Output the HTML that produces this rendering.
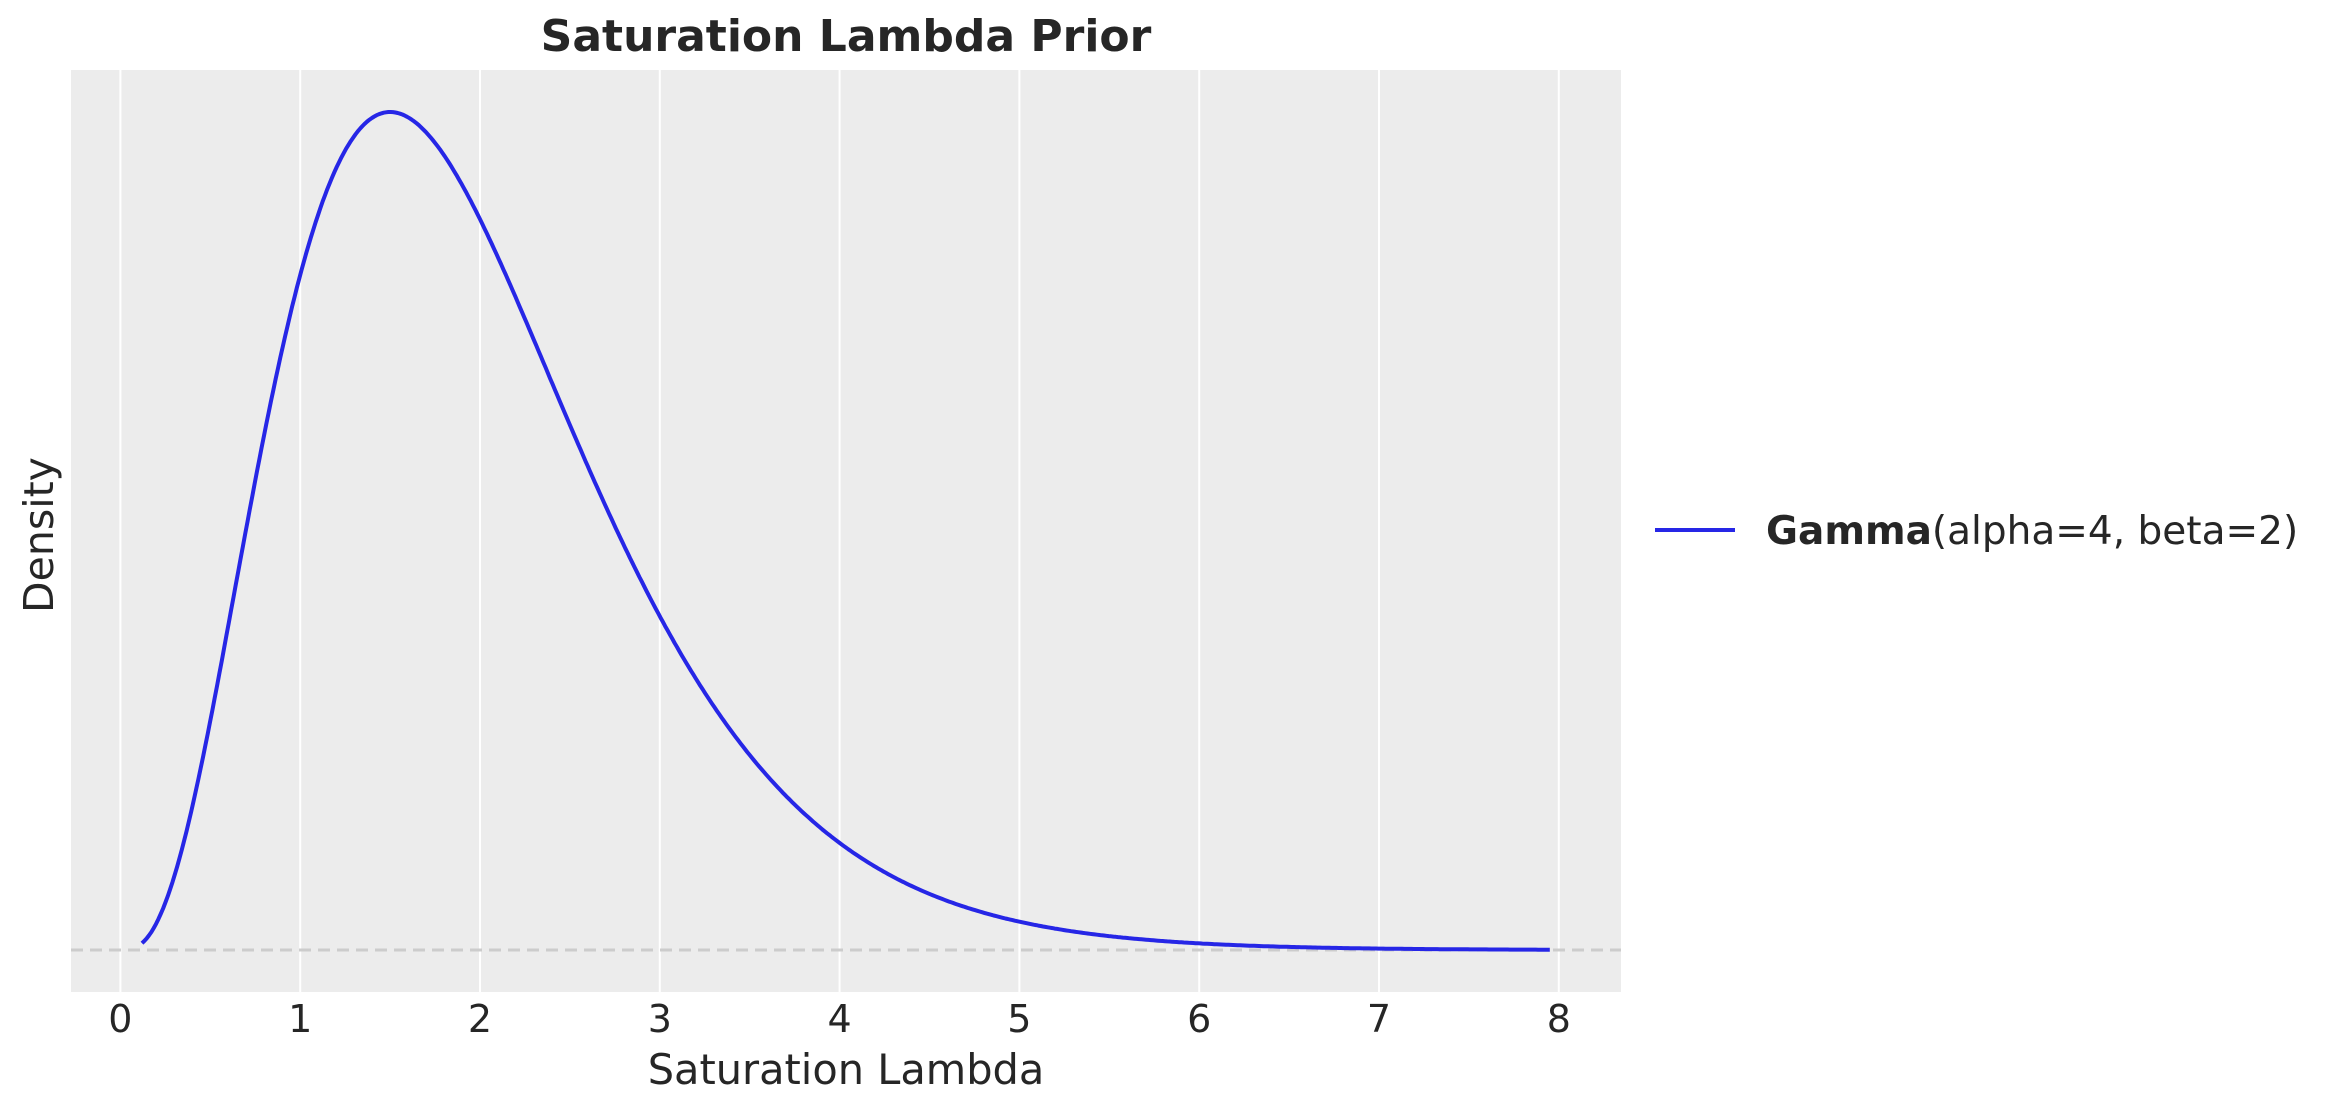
<!DOCTYPE html>
<html><head><meta charset="utf-8"><style>
html,body{margin:0;padding:0;background:#fff;}
svg text{font-family:"DejaVu Sans","Liberation Sans",sans-serif;fill:#262626;}
</style></head><body>
<svg id="s" width="2329" height="1113" xmlns="http://www.w3.org/2000/svg">
<rect x="71" y="70" width="1550" height="922" fill="#ececec"/>
<g id="grid" stroke="#fff" stroke-width="2"></g>
<line x1="71" y1="950" x2="1621" y2="950" stroke="#cccccc" stroke-width="3" stroke-dasharray="12,7"/>
<path id="curve" fill="none" stroke="#2626e6" stroke-width="4" stroke-linejoin="round"/>
<g id="ticks" font-size="38" text-anchor="middle"></g>
<text x="846" y="51" font-size="44" font-weight="bold" text-anchor="middle">Saturation Lambda Prior</text>
<text x="846" y="1084" font-size="41.5" text-anchor="middle">Saturation Lambda</text>
<text transform="translate(53,535) rotate(-90)" font-size="41" text-anchor="middle">Density</text>
<line x1="1655" y1="530" x2="1735" y2="530" stroke="#2626e6" stroke-width="4"/>
<text x="1766" y="544" font-size="39"><tspan font-weight="bold">Gamma</tspan>(alpha=4, beta=2)</text>
</svg>
<script>
var x0=120.4,u=179.8,y0=950,k=838/0.44808;
var g=document.getElementById('grid'),t=document.getElementById('ticks'),ns='http://www.w3.org/2000/svg';
for(var i=0;i<=8;i++){var X=x0+i*u;
var l=document.createElementNS(ns,'line');l.setAttribute('x1',X);l.setAttribute('x2',X);l.setAttribute('y1',70);l.setAttribute('y2',992);g.appendChild(l);
var tx=document.createElementNS(ns,'text');tx.setAttribute('x',X);tx.setAttribute('y',1032);tx.textContent=i;t.appendChild(tx);}
var d='';for(var j=0;j<=600;j++){var x=0.12+(7.95-0.12)*j/600;var f=8/3*x*x*x*Math.exp(-2*x);
d+=(j?'L':'M')+(x0+x*u).toFixed(1)+','+(y0-f*k).toFixed(1);}
document.getElementById('curve').setAttribute('d',d);
</script>
</body></html>
